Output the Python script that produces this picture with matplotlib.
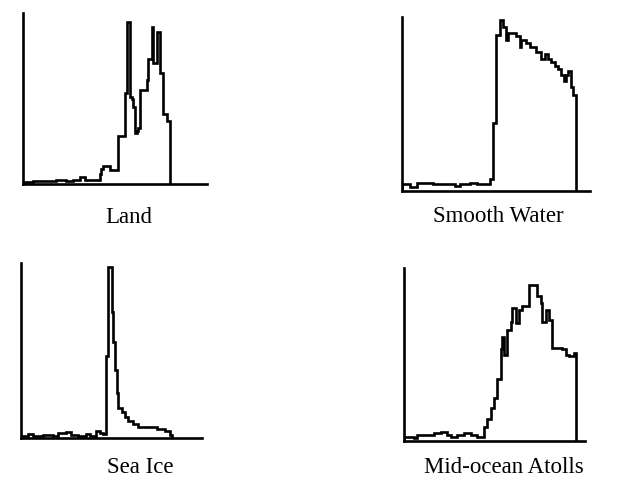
import matplotlib
matplotlib.use("Agg")
import matplotlib.pyplot as plt
import numpy as np

# Histogram values (percent of axis height), uniform bins per panel
land = [1, 1, 1, 1, 1, 1,
        1.5, 1.5, 1.5, 1.5, 1.5, 1.5, 1.5, 1.5, 1.5, 1.5, 1.5, 1.5, 1.5, 1.5,
        2.5, 2.5, 2.5, 2.5, 2.5, 2.5,
        1.5, 1.5, 1.5, 1.5,
        2.5, 2.5, 2.5, 2.5,
        4, 4, 4,
        2.5, 2.5, 2.5, 2.5, 2.5, 2.5, 2.5, 2.5, 2.5,
        6, 9,
        10.5, 10.5, 10.5, 10.5,
        8, 8, 8, 8, 8,
        28, 28, 28, 28,
        53,
        95, 95,
        51, 50, 45, 30, 31, 33,
        55, 55, 55, 55,
        61,
        73, 73,
        92, 71, 71,
        89, 89,
        65, 65,
        41, 41,
        37, 37]

smooth_water = [3.8, 3.8, 3.8, 3.8, 3.8,
                2.3, 2.3, 2.3, 2.3,
                4.6, 4.6, 4.6, 4.6, 4.6, 4.6, 4.6, 4.6, 4.6, 4.6,
                4.2, 4.2, 4.2, 4.2, 4.2, 4.2, 4.2, 4.2, 4.2, 4.2, 4.2, 4.2, 4.2,
                3.1, 3.1, 3.1,
                4.2, 4.2, 4.2, 4.2, 4.2, 4.2,
                4.6, 4.6, 4.6, 4.6,
                4.2, 4.2, 4.2, 4.2, 4.2, 4.2, 4.2, 4.2,
                7, 7,
                39, 39,
                89.5, 89.5,
                98, 98,
                94, 94,
                87,
                91, 91, 91, 91, 91,
                89, 89,
                83, 87,
                87, 87, 85, 85,
                83, 83, 83, 83,
                80, 80, 80,
                76, 76,
                79, 79,
                76, 76,
                74, 74,
                72, 72,
                70, 70,
                66.5, 66.5, 63.5,
                66.5, 69, 69,
                60, 55, 55]

sea_ice = [1.1, 1.1, 1.1, 1.1,
           2.1, 2.1, 2.1,
           1.1, 1.1, 1.1, 1.1, 1.1, 1.1,
           1.5, 1.5, 1.5, 1.5, 1.5, 1.5,
           1.1, 1.1, 1.1,
           3.1, 3.1, 3.1, 3.1, 3.1,
           3.4, 3.4, 3.4,
           1.9, 1.9, 1.9, 1.9,
           1.0, 1.0, 1.0, 1.0, 1.0,
           2.1, 2.1,
           1.0, 1.0, 1.0, 1.0,
           3.8, 3.8,
           3.1, 3.1,
           2.5, 2.5,
           47,
           97.5, 97.5,
           72, 55, 39, 26,
           17, 17,
           15, 15,
           12, 12,
           10, 10, 10,
           8.2, 8.2, 8.2,
           6.3, 6.3, 6.3, 6.3, 6.3, 6.3, 6.3, 6.3, 6.3, 6.3, 6.3,
           5.4, 5.4, 5.4, 5.4, 5.4,
           3.8, 3.8, 3.8,
           1.5]

atolls = [2.5, 2.5, 2.5, 2.5, 2.5, 2.5,
          1.5, 1.5,
          3.5, 3.5, 3.5, 3.5, 3.5, 3.5, 3.5, 3.5, 3.5, 3.5,
          4.4, 4.4, 4.4, 4.4,
          5.0, 5.0, 5.0, 5.0,
          3.5, 3.5,
          2.5, 2.5, 2.5, 2.5,
          3.5, 3.5, 3.5, 3.5,
          4.4, 4.4, 4.4, 4.4,
          3.5, 3.5, 3.5, 3.5,
          2.5, 2.5, 2.5, 2.5,
          8.3, 8.3,
          13, 13,
          19, 19,
          25, 25,
          36, 36,
          53, 60, 50, 50,
          64, 64,
          69, 77, 77,
          68, 68,
          76, 76,
          78, 78, 78, 78,
          90, 90, 90, 90, 90,
          84, 84,
          80, 69, 69,
          76, 76,
          70, 70,
          54, 54, 54, 54, 54, 54,
          53, 53,
          50, 50,
          49, 49, 49,
          51]

titles = ["Land", "Smooth Water", "Sea Ice", "Mid-ocean Atolls"]
series = [land, smooth_water, sea_ice, atolls]
# x-axis extent relative to the number of bins (axis longer than data)
x_extent = [1.252, 1.08, 1.2, 1.054]

W, H = 621, 488
# axes boxes in pixels: left, top, right, bottom
boxes = [(23, 13, 207, 184), (402, 17, 590, 191),
         (21, 263, 202, 438), (404, 268, 585, 441)]
label_pos = [(129, 223), (498, 222), (140, 473), (504, 473)]

fig = plt.figure(figsize=(W / 100, H / 100), dpi=100)
fig.patch.set_facecolor("white")

for vals, box, ext, title, lp in zip(series, boxes, x_extent, titles, label_pos):
    l, t, r, b = box
    ax = fig.add_axes([l / W, (H - b) / H, (r - l) / W, (b - t) / H])
    n = len(vals)
    edges = np.arange(n + 1)
    ax.stairs(vals, edges, baseline=0, color="black", lw=1.9)
    ax.set_xlim(0, n * ext)
    ax.set_ylim(0, 100)
    for s in ("top", "right"):
        ax.spines[s].set_visible(False)
    for s in ("left", "bottom"):
        ax.spines[s].set_linewidth(1.9)
        ax.spines[s].set_color("black")
    ax.set_xticks([])
    ax.set_yticks([])
    ax.patch.set_alpha(0)
    fig.text(lp[0] / W, (H - lp[1]) / H, title, ha="center", va="baseline",
             family="Liberation Serif", fontsize=16.5, color="black")

fig.savefig("out.png", dpi=100, facecolor="white")
